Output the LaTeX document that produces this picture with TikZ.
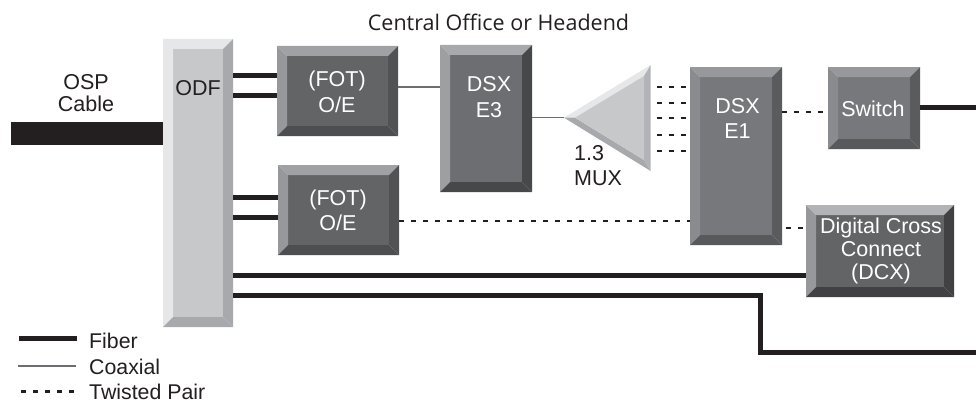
\documentclass[tikz,border=0pt]{standalone}
\usepackage{fontspec}
\setmainfont{Liberation Sans}
\newfontfamily\titlefont{Open Sans}
\definecolor{ink}{HTML}{231F20}
\definecolor{coaxc}{HTML}{6D6E71}
\definecolor{lightg}{HTML}{E6E7E8}
\definecolor{midg}{HTML}{A7A9AC}
\definecolor{paleg}{HTML}{C7C8CA}
\definecolor{edgeg}{HTML}{B1B3B6}
\tikzset{
  x=1pt,y=-1pt,
  fiber/.style={draw=ink,line width=5pt},
  coax/.style={draw=coaxc,line width=1.2pt},
  twisted/.style={draw=ink,line width=2.2pt,dash pattern=on 5pt off 7pt},
  lbl/.style={font=\fontsize{21.5}{25.5}\selectfont,align=center,inner sep=0pt,text=ink},
  wlbl/.style={lbl,text=white},
  slbl/.style={font=\fontsize{21.3}{25}\selectfont,anchor=west,inner sep=0pt,text=ink},
  boxnode/.style={inner sep=0pt,outer sep=0pt,draw=none},
}
\newcommand{\setpal}[5]{%
  \definecolor{pf}{HTML}{#1}\definecolor{pt}{HTML}{#2}\definecolor{pl}{HTML}{#3}%
  \definecolor{pr}{HTML}{#4}\definecolor{pb}{HTML}{#5}}
\newcommand{\bevelbox}[5]{%
  \pgfmathsetmacro{\bxil}{#2+10}\pgfmathsetmacro{\bxir}{#4-10}%
  \pgfmathsetmacro{\bxit}{#3+10}\pgfmathsetmacro{\bxib}{#5-10}%
  \pgfmathsetmacro{\bxcx}{(#2+#4)/2}\pgfmathsetmacro{\bxcy}{(#3+#5)/2}%
  \pgfmathsetmacro{\bxw}{#4-#2}\pgfmathsetmacro{\bxh}{#5-#3}%
  \fill[pf] (\bxil,\bxit) rectangle (\bxir,\bxib);
  \fill[pl] (#2,#3) -- (\bxil,\bxit) -- (\bxil,\bxib) -- (#2,#5) -- cycle;
  \fill[pt] (#2,#3) -- (#4,#3) -- (\bxir,\bxit) -- (\bxil,\bxit) -- cycle;
  \fill[pr] (#4,#3) -- (#4,#5) -- (\bxir,\bxib) -- (\bxir,\bxit) -- cycle;
  \fill[pb] (#2,#5) -- (#4,#5) -- (\bxir,\bxib) -- (\bxil,\bxib) -- cycle;
  \node[boxnode,minimum width=\bxw pt,minimum height=\bxh pt] (#1) at (\bxcx,\bxcy) {};
}
\begin{document}
\begin{tikzpicture}
\useasboundingbox (0,0) rectangle (976,404);
\fill[white] (0,0) rectangle (976,404);
\node[inner sep=0pt,text=ink,font=\titlefont\fontsize{21.5}{25}\selectfont] (title) at (498.5,22) {Central Office or Headend};

% boxes
\setpal{C7C8CA}{E6E7E8}{E6E7E8}{A7A9AC}{A7A9AC}
\bevelbox{odf}{163}{39}{233}{327}
\setpal{636466}{A0A1A4}{97989B}{515254}{4D4E50}
\bevelbox{fota}{277}{46}{398}{136}
\bevelbox{fotb}{278}{165}{399}{255}
\setpal{6D6E71}{A7A9AC}{9D9FA2}{47484A}{47484A}
\bevelbox{dsxa}{440}{45}{532}{192}
\setpal{77787B}{97989B}{8A8B8E}{5A5B5D}{58595B}
\bevelbox{dsxb}{690}{67}{782}{245}
\bevelbox{sw}{828}{67}{920}{149}
\setpal{636466}{B1B3B6}{97989B}{414042}{414042}
\bevelbox{dcx}{806}{205}{954}{297}

% multiplexer
\coordinate (muxtip) at (564,117.7);
\fill[lightg] (muxtip) -- (650.7,65) -- (644,76) -- (575,117.7) -- cycle;
\fill[midg] (muxtip) -- (650.7,171) -- (644,160) -- (575,117.7) -- cycle;
\fill[edgeg] (650.7,65) -- (650.7,171) -- (644,160) -- (644,76) -- cycle;
\fill[paleg] (575,117.7) -- (644,76) -- (644,160) -- cycle;
\coordinate (muxr) at (650.7,118);

% labels
\node[lbl] (odfl) at (198,88) {ODF};
\node[lbl,font=\fontsize{21.5}{22}\selectfont] (osp) at (86,93) {OSP\\Cable};
\node[wlbl] (fotal) at (337,92) {(FOT)\\O/E};
\node[wlbl] (fotbl) at (338,210.5) {(FOT)\\O/E};
\node[wlbl] (dsxal) at (489,97) {DSX\\E3};
\node[wlbl] (dsxbl) at (737.5,118.5) {DSX\\E1};
\node[wlbl] (swl) at (873,109) {Switch};
\node[wlbl,font=\fontsize{21.5}{23}\selectfont] (dcxl) at (881,251) {Digital Cross\\Connect\\(DCX)};
\node[lbl,align=left,anchor=west] (muxl) at (574,165.5) {1.3\\MUX};

% cable
\fill[ink] (11,122) rectangle (163,145);

% fiber
\draw[fiber] (odf.east |- 0,75.7) -- (fota.west |- 0,75.7);
\draw[fiber] (odf.east |- 0,95.7) -- (fota.west |- 0,95.7);
\draw[fiber] (odf.east |- 0,197) -- (fotb.west |- 0,197);
\draw[fiber] (odf.east |- 0,217) -- (fotb.west |- 0,217);
\draw[fiber] (odf.east |- 0,275) -- (dcx.west |- 0,275);
\coordinate (outa) at (976,107);
\coordinate (outb) at (976,352);
\draw[fiber] (sw.east |- outa) -- (outa);
\draw[fiber,line join=miter] (odf.east |- 0,295) -| (760.5,352) -- (outb);

% coax
\draw[coax] (fota.east |- 0,87) -- (dsxa.west |- 0,87);
\draw[coax] (dsxa.east |- muxtip) -- (muxtip);

% twisted pair
\foreach \yy in {87,103,118,135,151} {\draw[twisted] (muxr |- 0,\yy) ++(6,0) -- (dsxb.west |- 0,\yy);}
\draw[twisted] (dsxb.east |- 0,112) -- (sw.west |- 0,112);
\draw[twisted,dash phase=8pt] (dsxb.east |- 0,228) -- (dcx.west |- 0,228);
\draw[twisted] (fotb.east |- 0,221) -- (dsxb.west |- 0,221);

% legend
\coordinate (la) at (19,338); \coordinate (lb) at (77,338);
\coordinate (lc) at (18,366); \coordinate (ld) at (76,366);
\coordinate (le) at (21,391.5); \coordinate (lf) at (76,391.5);
\draw[fiber] (la) -- (lb);
\draw[coax] (lc) -- (ld);
\draw[twisted] (le) -- (lf);
\node[slbl] (lfib) at (89,341) {Fiber};
\node[slbl] (lcoa) at (89,367) {Coaxial};
\node[slbl] (ltwi) at (89,392) {Twisted Pair};
\end{tikzpicture}
\end{document}
